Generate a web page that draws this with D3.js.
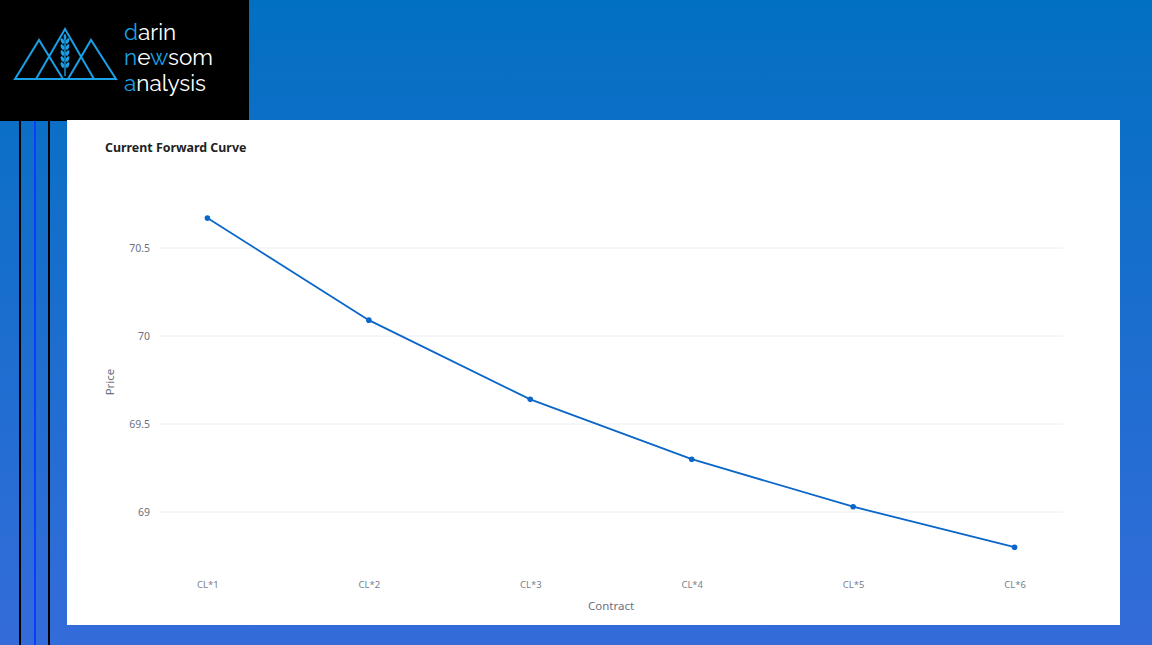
<!DOCTYPE html>
<html><head><meta charset="utf-8">
<script src="https://cdn.jsdelivr.net/npm/d3@7"></script>
<style>html,body{margin:0;padding:0;overflow:hidden;}svg{display:block;}</style>
</head><body>
<script>
const categories = ["CL*1","CL*2","CL*3","CL*4","CL*5","CL*6"];
const prices = [70.67, 70.09, 69.64, 69.30, 69.03, 68.80];
const yTicks = [69, 69.5, 70, 70.5];
const yTickLabels = ["69","69.5","70","70.5"];
const title = "Current Forward Curve";
const xTitle = "Contract";
const yTitle = "Price";

const W = 1152, H = 645;
const svg = d3.select("body").append("svg").attr("width", W).attr("height", H);
const defs = svg.append("defs");
const grad = defs.append("linearGradient").attr("id","bg").attr("x1",0).attr("y1",0).attr("x2",0).attr("y2",1);
grad.append("stop").attr("offset","0%").attr("stop-color","#0270c2");
grad.append("stop").attr("offset","100%").attr("stop-color","#346cda");
svg.append("rect").attr("width",W).attr("height",H).attr("fill","url(#bg)");

// vertical stripes
svg.append("rect").attr("x",19).attr("y",120).attr("width",2).attr("height",H-120).attr("fill","#000");
svg.append("rect").attr("x",34).attr("y",120).attr("width",2).attr("height",H-120).attr("fill","#0a3cff");
svg.append("rect").attr("x",48).attr("y",120).attr("width",2).attr("height",H-120).attr("fill","#000");

// logo box
svg.append("rect").attr("x",0).attr("y",0).attr("width",249).attr("height",121).attr("fill","#000");
const lg = svg.append("g").attr("fill","none").attr("stroke","#1aa0e6").attr("stroke-width",2).attr("stroke-linejoin","miter");
lg.append("path").attr("d","M15,79 L39,40 L63,79 Z");
lg.append("path").attr("d","M36,79 L65,29 L94,79");
lg.append("path").attr("d","M68,79 L91,40 L116,79 L15,79");
// wheat
const wg = svg.append("g").attr("fill","#1aa0e6");
wg.append("rect").attr("x",64.3).attr("y",36).attr("width",1.4).attr("height",40);
[[41],[47],[53],[59],[65]].forEach(([yy])=>{
  wg.append("ellipse").attr("cx",62.5).attr("cy",yy).attr("rx",1.6).attr("ry",3).attr("transform",`rotate(-25,62.5,${yy})`);
  wg.append("ellipse").attr("cx",67.5).attr("cy",yy).attr("rx",1.6).attr("ry",3).attr("transform",`rotate(25,67.5,${yy})`);
});
wg.append("ellipse").attr("cx",65).attr("cy",37).attr("rx",1.4).attr("ry",3);

const logoLines = [
  [["d",1],["arin",0]],
  [["n",1],["e",0],["w",1],["som",0]],
  [["a",1],["nalysis",0]]
];
logoLines.forEach((parts,i)=>{
  const t = svg.append("text").attr("x",124).attr("y",40+i*25.3)
    .attr("font-family","Raleway, Lato, 'Open Sans', sans-serif").attr("font-size",22.5).attr("font-weight",400);
  parts.forEach(([s,b])=>t.append("tspan").text(s).attr("fill", b?"#1aa0e6":"#ffffff"));
});

// white panel
svg.append("rect").attr("x",67).attr("y",120).attr("width",1053).attr("height",505).attr("fill","#fff");

svg.append("text").attr("x",105).attr("y",152).text(title)
  .attr("font-family","'Source Sans Pro','Noto Sans',sans-serif").attr("font-weight","bold").attr("font-size",12.4).attr("fill","#222");

const plotL = 159, plotR = 1063;
const x = d3.scalePoint().domain(categories).range([plotL, plotR]).padding(0.3);
const y = d3.scaleLinear().domain([69, 70.5]).range([512, 248]);

const g = svg.append("g");
// grid
g.selectAll("line.grid").data(yTicks).join("line")
  .attr("x1",plotL).attr("x2",plotR).attr("y1",d=>y(d)).attr("y2",d=>y(d))
  .attr("stroke","#eceef3").attr("stroke-width",1);

// y axis labels
const yAxis = d3.axisLeft(y).tickValues(yTicks).tickFormat((d,i)=>yTickLabels[i]).tickSize(0).tickPadding(0);
const ya = svg.append("g").attr("transform",`translate(${plotL-9},0)`).call(yAxis);
ya.select(".domain").remove();
ya.selectAll("text").attr("font-family","'Noto Sans',sans-serif").attr("font-size",10.5).attr("fill","#6b7080");

// x axis labels
const xAxis = d3.axisBottom(x).tickSize(0).tickPadding(0);
const xa = svg.append("g").attr("transform",`translate(0,581)`).call(xAxis);
xa.select(".domain").remove();
xa.selectAll("text").attr("font-family","'Noto Sans',sans-serif").attr("font-size",9.5).attr("fill","#7a7f8e");

svg.append("text").attr("x",611).attr("y",610).attr("text-anchor","middle").text(xTitle)
  .attr("font-family","'Noto Sans',sans-serif").attr("font-size",11.5).attr("fill","#6b7080");
svg.append("text").attr("transform","translate(114,382) rotate(-90)").attr("text-anchor","middle").text(yTitle)
  .attr("font-family","'Noto Sans',sans-serif").attr("font-size",11.5).attr("fill","#6b7080");

const data = categories.map((c,i)=>({c, v:prices[i]}));
g.append("path").datum(data)
  .attr("d", d3.line().x(d=>x(d.c)).y(d=>y(d.v)))
  .attr("fill","none").attr("stroke","#0a66c8").attr("stroke-width",1.8);
g.selectAll("circle").data(data).join("circle")
  .attr("cx",d=>x(d.c)).attr("cy",d=>y(d.v)).attr("r",2.8).attr("fill","#0a66c8");
</script>
</body></html>
